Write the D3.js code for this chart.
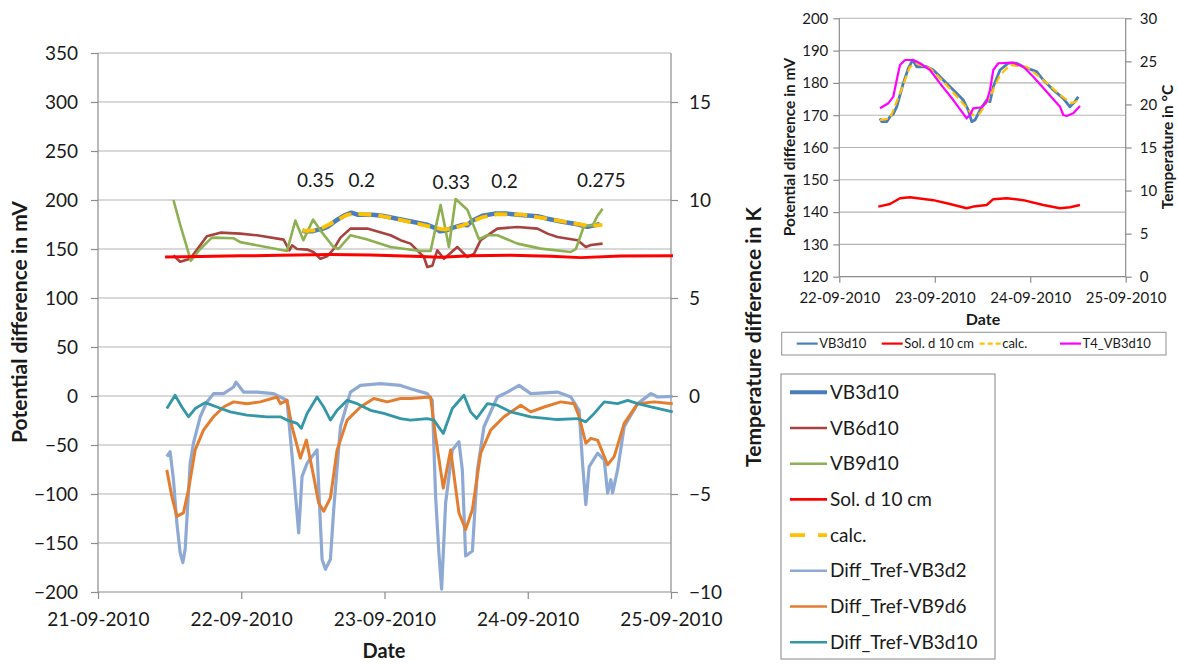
<!DOCTYPE html>
<html>
<head>
<meta charset="utf-8">
<script src="https://cdn.jsdelivr.net/npm/d3@7"></script>
<style>
  body { margin: 0; background: #fff; }
  text { font-family: Lato, "Open Sans", "Liberation Sans", sans-serif; fill: #1a1a1a; }
</style>
</head>
<body>
<svg id="chart" width="1178" height="664"></svg>
<script>
// ---- Measurements (time = hours after 21-09-2010 00:00) ----

// Potential differences in mV
const tVB3d10 = [34.23,34.66,35.92,36.75,37.58,38.43,40.09,41.35,42.45,43.46,45.97,47.63,50.14,52.66,55.17,56.43,57.28,58.11,59.37,61.05,61.88,62.71,64.40,66.48,68.60,70.26,73.62,75.28,77.80,80.31,81.99,83.25,84.08];
const vVB3d10 = [169.0,168.0,168.0,169.5,170.4,172.6,179.9,184.5,187.1,185.0,185.0,184.0,180.9,177.8,174.7,171.6,168.0,168.5,171.6,174.7,174.2,178.8,184.0,186.1,186.1,185.0,183.5,180.9,177.8,175.2,172.6,174.2,175.7];

const tVB6d10 = [12.64,13.76,15.44,18.24,20.48,23.83,26.63,31.10,32.06,32.51,33.35,35.03,36.08,37.26,38.38,39.49,40.62,42.29,45.10,49.01,50.69,52.36,54.60,55.17,56.01,56.84,57.95,60.20,61.88,62.99,64.11,66.91,70.27,73.63,75.31,76.98,80.34,81.73,82.57,84.54];
const vVB6d10 = [143.5,137.0,140.0,163.0,166.7,165.7,164.0,159.6,148.7,153.8,150.0,149.4,147.0,140.0,142.5,150.0,161.6,170.8,170.8,164.0,159.0,155.5,141.8,131.6,133.0,148.7,140.0,152.0,141.8,145.0,159.0,170.8,172.4,170.8,165.7,162.3,159.0,152.0,154.0,155.5];

const tVB9d10 = [12.64,13.76,15.56,17.12,19.08,22.66,23.83,31.67,33.06,34.41,36.03,37.26,39.44,40.28,42.29,44.98,49.01,54.04,55.72,57.40,58.79,59.92,61.88,63.83,65.24,66.91,70.27,74.18,79.22,80.06,81.45,82.86,83.70,84.54];
const vVB9d10 = [200.0,175.0,138.0,150.0,161.6,161.0,157.0,148.0,179.0,159.0,180.0,169.0,152.0,150.0,164.0,160.0,152.0,148.0,148.0,195.0,152.0,201.0,190.0,160.0,164.0,164.0,155.5,150.4,147.0,150.0,174.0,174.0,184.0,191.0];

const tSol = [11.24,17.12,23.83,30.55,38.94,45.65,54.04,57.40,62.43,69.15,75.86,80.89,87.60,96.34];
const vSol = [141.8,142.3,143.0,143.6,144.3,144.0,142.3,141.5,143.0,143.6,142.5,141.2,142.8,143.2];

const tCalc = [34.23,36.75,39.26,41.77,43.46,46.80,51.00,54.34,57.69,59.37,61.88,64.40,66.91,71.11,75.28,79.48,82.42,84.51];
const vCalc = [168.5,169.0,176.8,185.0,186.0,184.5,179.3,174.7,170.0,170.6,175.7,182.4,185.5,185.0,180.9,176.3,173.7,174.7];

// Temperature differences in K
const tD3d2 = [11.53,12.08,12.64,13.21,13.76,14.22,14.60,14.89,15.44,15.99,17.12,18.24,19.35,21.03,22.71,23.11,24.39,26.63,29.42,30.55,31.67,32.22,32.78,33.62,34.19,35.03,36.70,36.97,37.54,38.10,38.94,39.49,40.62,42.29,43.97,47.33,50.69,52.36,55.17,56.01,56.56,57.11,57.57,58.24,59.36,60.47,61.04,61.59,62.72,63.56,64.67,66.91,68.59,70.54,72.50,76.98,79.22,80.61,81.18,81.73,82.29,83.70,84.81,85.38,85.93,86.21,87.05,88.16,90.41,92.64,93.77,96.29];
const vD3d2 = [-3.09,-2.84,-4.27,-6.47,-7.99,-8.50,-7.82,-6.30,-3.43,-2.41,-1.06,-0.30,0.12,0.12,0.46,0.71,0.20,0.20,0.12,-0.05,-0.22,-2.08,-3.94,-6.98,-4.10,-3.43,-2.75,-4.61,-8.33,-8.84,-8.33,-5.80,-1.57,0.20,0.54,0.63,0.54,0.37,0.12,-0.22,-5.12,-7.99,-9.85,-5.46,-2.75,-2.33,-3.77,-8.16,-7.91,-3.77,-1.57,-0.05,0.20,0.54,0.12,0.20,-0.05,-0.73,-3.43,-5.54,-3.60,-2.92,-3.26,-4.95,-4.27,-4.95,-3.77,-1.57,-0.39,0.12,-0.05,-0.02];

const tD9d6 = [11.53,12.37,13.21,14.32,15.16,16.28,17.67,19.35,21.03,22.71,24.96,27.19,29.99,30.55,31.67,32.51,33.90,34.91,36.13,36.97,37.81,38.94,40.06,41.74,43.97,46.20,48.45,50.69,52.36,55.72,56.56,57.85,59.08,60.47,61.59,62.72,64.11,65.79,68.02,70.83,72.50,74.74,77.53,79.77,80.61,81.73,82.57,83.70,85.38,86.48,88.16,90.41,93.20,96.29];
const vD9d6 = [-3.77,-5.12,-6.14,-5.96,-4.78,-2.75,-1.74,-1.06,-0.56,-0.30,-0.39,-0.30,-0.05,-0.39,-0.22,-1.57,-3.17,-2.25,-4.10,-5.46,-5.88,-5.20,-2.75,-1.23,-0.56,-0.13,-0.30,-0.13,-0.13,-0.05,-2.08,-4.70,-2.75,-5.96,-6.81,-5.80,-2.92,-1.74,-1.06,-0.47,-0.81,-0.56,-0.30,-0.39,-1.06,-2.41,-2.16,-2.25,-3.51,-3.09,-1.40,-0.39,-0.30,-0.39];

const tD3d10 = [11.53,12.92,14.05,15.16,16.28,17.96,19.92,22.15,24.96,28.31,30.55,31.67,33.35,34.07,35.03,36.70,37.81,38.94,40.06,41.74,43.42,45.65,47.88,50.69,52.36,55.17,56.27,57.85,59.36,61.31,62.43,63.44,65.24,66.91,69.15,72.50,76.98,80.34,81.73,83.13,84.81,87.05,88.73,90.41,92.64,96.29];
const vD3d10 = [-0.64,0.04,-0.56,-1.06,-0.64,-0.34,-0.56,-0.81,-0.98,-1.06,-1.06,-1.23,-1.40,-1.65,-0.89,-0.05,-0.56,-1.23,-0.73,-0.22,-0.39,-0.73,-0.89,-1.15,-1.23,-1.15,-1.23,-1.91,-0.64,0.04,-0.81,-1.15,-0.39,-0.47,-0.81,-1.06,-1.20,-1.15,-1.32,-0.89,-0.30,-0.39,-0.22,-0.39,-0.56,-0.81];

// Inset: soil solution and sensor temperature (°C)
const tSolInset = [33.80,36.75,39.26,41.77,47.63,51.83,56.03,57.69,61.05,62.71,66.08,70.26,75.28,79.48,81.99,84.51];
const vSolInset = [141.7,142.5,144.3,144.6,143.7,142.5,141.2,141.7,142.2,144.0,144.3,143.7,142.2,141.2,141.5,142.2];

const tT4 = [34.23,36.32,37.58,38.43,39.26,40.52,42.60,44.29,46.80,49.32,52.66,56.03,56.86,57.69,59.80,61.05,61.88,62.71,63.97,67.74,70.26,72.77,76.14,79.48,80.31,81.17,82.82,84.51];
const vT4 = [19.55,20.13,20.90,22.84,24.58,25.16,25.16,24.78,24.00,22.45,20.51,18.39,18.77,19.55,19.67,20.32,21.68,24.00,24.78,24.85,24.38,23.22,21.48,19.74,18.77,18.66,18.97,19.82];

// Exponent annotations above the VB3d10 curve
const annoText = ["0.35", "0.2", "0.33", "0.2", "0.275"];
const annoHour = [36.5, 44.2, 59.2, 68.1, 84.3];
const annoMv = [188, 188, 186, 187, 188];

// Axis ticks
const mvTicks = d3.range(-200, 351, 50);
const kTicks = [-10, -5, 0, 5, 10, 15];
const insetMvTicks = d3.range(120, 201, 10);
const insetCTicks = d3.range(0, 31, 5);

// ---- helpers ----
const t0 = new Date(2010, 8, 21);
const toDate = h => new Date(t0.getTime() + h * 3600000);
const zip = (ts, vs) => ts.map((h, i) => ({ t: toDate(h), v: vs[i] }));
const fmt = d3.timeFormat("%d-%m-%Y");

const svg = d3.select("#chart");
const GRID = "#b4b4b4", AXIS = "#8c8c8c";

function styleAxis(g) {
  g.select(".domain").attr("stroke", AXIS).attr("stroke-width", 1.2);
  g.selectAll(".tick line").attr("stroke", AXIS).attr("stroke-width", 1.2);
  g.selectAll(".tick text").attr("fill", "#1a1a1a").attr("font-family", "Lato, 'Open Sans', sans-serif");
}

// ================= Main chart =================
const M = { l: 98, r: 671, t: 53, b: 592 };
const x = d3.scaleTime().domain([new Date(2010, 8, 21), new Date(2010, 8, 25)]).range([M.l, M.r]);
const yL = d3.scaleLinear().domain([-200, 350]).range([M.b, M.t]);
const yR = d3.scaleLinear().domain([-10, 17.5]).range([M.b, M.t]);

const main = svg.append("g");

main.append("g").selectAll("line").data(mvTicks.filter(v => v > -200)).join("line")
  .attr("x1", M.l).attr("x2", M.r).attr("y1", d => yL(d)).attr("y2", d => yL(d))
  .attr("stroke", GRID).attr("stroke-width", 1.2);

const axL = main.append("g").attr("transform", `translate(${M.l},0)`)
  .call(d3.axisLeft(yL).tickValues(mvTicks).tickSize(7).tickPadding(13).tickFormat(d3.format("d")));
axL.selectAll(".tick text").attr("font-size", 19);
styleAxis(axL);
axL.select(".domain").attr("d", `M0,${M.b}V${M.t}`);

const axR = main.append("g").attr("transform", `translate(${M.r},0)`)
  .call(d3.axisRight(yR).tickValues(kTicks).tickSize(7).tickPadding(11));
axR.selectAll(".tick text").attr("font-size", 19);
styleAxis(axR);
axR.select(".domain").attr("d", `M0,${M.b}V${M.t}`);

const axB = main.append("g").attr("transform", `translate(0,${M.b})`)
  .call(d3.axisBottom(x).ticks(d3.timeDay.every(1)).tickSize(7).tickPadding(14).tickFormat(fmt));
axB.selectAll(".tick text").attr("font-size", 19);
styleAxis(axB);
axB.select(".domain").attr("d", `M${M.l},0H${M.r}`);

main.append("text").attr("transform", "translate(27,322) rotate(-90)")
  .attr("text-anchor", "middle").attr("font-size", 21).attr("font-weight", "bold")
  .text("Potential difference in mV");
main.append("text").attr("transform", "translate(761,337) rotate(-90)")
  .attr("text-anchor", "middle").attr("font-size", 21).attr("font-weight", "bold")
  .text("Temperature difference in K");
main.append("text").attr("x", 384).attr("y", 658)
  .attr("text-anchor", "middle").attr("font-size", 20).attr("font-weight", "bold").text("Date");

const lineL = d3.line().x(d => x(d.t)).y(d => yL(d.v)).curve(d3.curveLinear);
const lineR = d3.line().x(d => x(d.t)).y(d => yR(d.v)).curve(d3.curveLinear);

const mainSeries = [
  { name: "VB3d10", data: zip(tVB3d10, vVB3d10), gen: lineL, color: "#4a7ebb", w: 4.5 },
  { name: "VB6d10", data: zip(tVB6d10, vVB6d10), gen: lineL, color: "#a8423e", w: 2.6 },
  { name: "VB9d10", data: zip(tVB9d10, vVB9d10), gen: lineL, color: "#8db050", w: 2.6 },
  { name: "Sol. d 10 cm", data: zip(tSol, vSol), gen: lineL, color: "#ff0000", w: 3 },
  { name: "calc.", data: zip(tCalc, vCalc), gen: lineL, color: "#ffc000", w: 3.8, dash: "13,7" },
  { name: "Diff_Tref-VB3d2", data: zip(tD3d2, vD3d2), gen: lineR, color: "#8eaad4", w: 3.2 },
  { name: "Diff_Tref-VB9d6", data: zip(tD9d6, vD9d6), gen: lineR, color: "#e37d30", w: 3 },
  { name: "Diff_Tref-VB3d10", data: zip(tD3d10, vD3d10), gen: lineR, color: "#3397a6", w: 2.8 }
];

main.append("g").selectAll("path").data(mainSeries).join("path")
  .attr("d", s => s.gen(s.data))
  .attr("fill", "none")
  .attr("stroke", s => s.color)
  .attr("stroke-width", s => s.w)
  .attr("stroke-dasharray", s => s.dash || null)
  .attr("stroke-linejoin", "round");

main.append("g").selectAll("text").data(annoText).join("text")
  .attr("x", (d, i) => x(toDate(annoHour[i])))
  .attr("y", (d, i) => yL(annoMv[i]) - 25)
  .attr("text-anchor", "middle").attr("font-size", 19).text(d => d);

// Main legend
const leg = svg.append("g").attr("transform", "translate(781,374)");
leg.append("rect").attr("width", 214).attr("height", 285)
  .attr("fill", "#fff").attr("stroke", "#9a9a9a").attr("stroke-width", 1.2);
const legItems = leg.selectAll("g.item").data(mainSeries).join("g")
  .attr("class", "item")
  .attr("transform", (d, i) => `translate(0,${18.3 + i * 35.7})`);
legItems.append("line").attr("x1", 9).attr("x2", 46)
  .attr("stroke", d => d.color)
  .attr("stroke-width", d => d.name === "VB3d10" ? 4 : (d.name === "calc." ? 3.8 : 2.6))
  .attr("stroke-dasharray", d => d.name === "calc." ? "15,13" : null);
legItems.append("text").attr("x", 49).attr("dy", "0.35em").attr("font-size", 19).text(d => d.name);

// ================= Inset chart =================
const I = { l: 839.3, r: 1125.7, t: 18.3, b: 276.7 };
const xi = d3.scaleTime().domain([new Date(2010, 8, 22), new Date(2010, 8, 25)]).range([I.l, I.r]);
const yiL = d3.scaleLinear().domain([120, 200]).range([I.b, I.t]);
const yiR = d3.scaleLinear().domain([0, 30]).range([I.b, I.t]);

const inset = svg.append("g");
inset.append("g").selectAll("line").data(insetMvTicks.filter(v => v > 120)).join("line")
  .attr("x1", I.l).attr("x2", I.r).attr("y1", d => yiL(d)).attr("y2", d => yiL(d))
  .attr("stroke", GRID).attr("stroke-width", 1.1);

const iaL = inset.append("g").attr("transform", `translate(${I.l},0)`)
  .call(d3.axisLeft(yiL).tickValues(insetMvTicks).tickSize(6).tickPadding(5));
iaL.selectAll(".tick text").attr("font-size", 15);
styleAxis(iaL);
iaL.select(".domain").attr("d", `M0,${I.b}V${I.t}`);

const iaR = inset.append("g").attr("transform", `translate(${I.r},0)`)
  .call(d3.axisRight(yiR).tickValues(insetCTicks).tickSize(6).tickPadding(8));
iaR.selectAll(".tick text").attr("font-size", 15);
styleAxis(iaR);
iaR.select(".domain").attr("d", `M0,${I.b}V${I.t}`);

const iaB = inset.append("g").attr("transform", `translate(0,${I.b})`)
  .call(d3.axisBottom(xi).ticks(d3.timeDay.every(1)).tickSize(6).tickPadding(10).tickFormat(fmt));
iaB.selectAll(".tick text").attr("font-size", 15);
styleAxis(iaB);
iaB.select(".domain").attr("d", `M${I.l},0H${I.r}`);

inset.append("text").attr("transform", "translate(795,147) rotate(-90)")
  .attr("text-anchor", "middle").attr("font-size", 15.5).attr("font-weight", "bold")
  .text("Potential difference in mV");
inset.append("text").attr("transform", "translate(1173,147) rotate(-90)")
  .attr("text-anchor", "middle").attr("font-size", 15.5).attr("font-weight", "bold")
  .text("Temperature in °C");
inset.append("text").attr("x", 983).attr("y", 325)
  .attr("text-anchor", "middle").attr("font-size", 16).attr("font-weight", "bold").text("Date");

const liL = d3.line().x(d => xi(d.t)).y(d => yiL(d.v));
const liR = d3.line().x(d => xi(d.t)).y(d => yiR(d.v));

const insetSeries = [
  { name: "VB3d10", data: zip(tVB3d10, vVB3d10), gen: liL, color: "#4a7ebb", w: 2.8 },
  { name: "Sol. d 10 cm", data: zip(tSolInset, vSolInset), gen: liL, color: "#ff0000", w: 2.5 },
  { name: "calc.", data: zip(tCalc, vCalc), gen: liL, color: "#ffc000", w: 2.2, dash: "8,4" },
  { name: "T4_VB3d10", data: zip(tT4, vT4), gen: liR, color: "#ff00ff", w: 2.2 }
];
inset.append("g").selectAll("path").data(insetSeries).join("path")
  .attr("d", s => s.gen(s.data))
  .attr("fill", "none").attr("stroke", s => s.color).attr("stroke-width", s => s.w)
  .attr("stroke-dasharray", s => s.dash || null).attr("stroke-linejoin", "round");

// Inset legend
const il = svg.append("g").attr("transform", "translate(781.7,332.3)");
il.append("rect").attr("width", 384.3).attr("height", 22.7)
  .attr("fill", "#fff").attr("stroke", "#9a9a9a").attr("stroke-width", 1.1);
const ilX = [15, 100, 198, 278.3];
const ilItems = il.selectAll("g.item").data(insetSeries).join("g")
  .attr("class", "item").attr("transform", (d, i) => `translate(${ilX[i]},11.3)`);
ilItems.append("line").attr("x1", 0).attr("x2", 21)
  .attr("stroke", d => d.color).attr("stroke-width", 2.2)
  .attr("stroke-dasharray", d => d.dash ? "5,3" : null);
ilItems.append("text").attr("x", 22.5).attr("dy", "0.35em").attr("font-size", 13).text(d => d.name);
</script>
</body>
</html>
